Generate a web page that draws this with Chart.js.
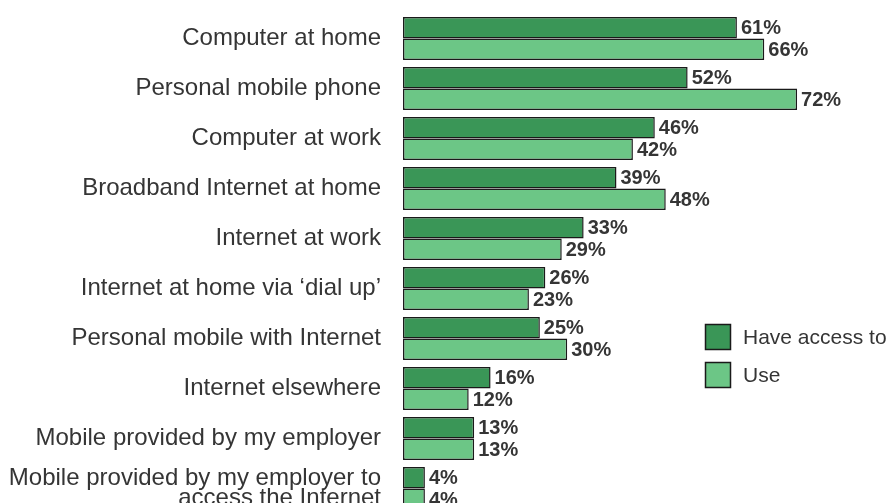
<!DOCTYPE html>
<html>
<head>
<meta charset="utf-8">
<script src="https://cdn.jsdelivr.net/npm/chart.js@4/dist/chart.umd.min.js"></script>
<style>
  html, body { margin: 0; padding: 0; background: #fff; overflow: hidden; width: 886px; height: 503px; }
  canvas { display: block; }
</style>
</head>
<body>
<canvas id="c" width="886" height="520"></canvas>
<script>
// Categories (top to bottom)
const categories = [
  'Computer at home',
  'Personal mobile phone',
  'Computer at work',
  'Broadband Internet at home',
  'Internet at work',
  'Internet at home via \u2018dial up\u2019',
  'Personal mobile with Internet',
  'Internet elsewhere',
  'Mobile provided by my employer',
  ['Mobile provided by my employer to', 'access the Internet']
];

// Percentages per series
const haveAccess = [61, 52, 46, 39, 33, 26, 25, 16, 13, 4];
const use        = [66, 72, 42, 48, 29, 23, 30, 12, 13, 4];

const seriesNames = ['Have access to', 'Use'];
const DARK = '#3a9657';
const LIGHT = '#6cc686';
const EDGE = '#1a1a1a';
const TEXT = '#353535';

// Percent labels at the end of each bar
const valueLabels = {
  id: 'valueLabels',
  afterDatasetsDraw(chart) {
    const ctx = chart.ctx;
    ctx.save();
    ctx.font = 'bold 20px "Liberation Sans", Arial, sans-serif';
    ctx.fillStyle = TEXT;
    ctx.textAlign = 'left';
    ctx.textBaseline = 'middle';
    chart.data.datasets.forEach((ds, di) => {
      chart.getDatasetMeta(di).data.forEach((bar, i) => {
        ctx.fillText(ds.data[i] + '%', bar.x + 4, bar.y + 1);
      });
    });
    ctx.restore();
  }
};

// Legend with square swatches to the right of the bars
const sideLegend = {
  id: 'sideLegend',
  afterDraw(chart) {
    const ctx = chart.ctx;
    ctx.save();
    ctx.font = '21px "Liberation Sans", Arial, sans-serif';
    ctx.textBaseline = 'middle';
    ctx.textAlign = 'left';
    chart.data.datasets.forEach((ds, i) => {
      const x = 705, y = 324 + i * 38;
      ctx.fillStyle = ds.backgroundColor;
      ctx.fillRect(x, y, 26, 26);
      ctx.strokeStyle = EDGE;
      ctx.lineWidth = 1.5;
      ctx.strokeRect(x + 0.5, y + 0.5, 25, 25);
      ctx.fillStyle = TEXT;
      ctx.fillText(ds.label, 743, y + 14);
    });
    ctx.restore();
  }
};

new Chart(document.getElementById('c'), {
  type: 'bar',
  data: {
    labels: categories,
    datasets: [
      { label: seriesNames[0], data: haveAccess, backgroundColor: DARK, borderColor: EDGE, borderWidth: 1.5, borderSkipped: false },
      { label: seriesNames[1], data: use, backgroundColor: LIGHT, borderColor: EDGE, borderWidth: 1.5, borderSkipped: false }
    ]
  },
  options: {
    indexAxis: 'y',
    responsive: false,
    animation: false,
    devicePixelRatio: 1,
    layout: { padding: { top: 13.5, bottom: 6.5, left: 0, right: 45.1 } },
    datasets: { bar: { categoryPercentage: 0.86, barPercentage: 1 } },
    plugins: {
      legend: { display: false },
      tooltip: { enabled: false },
      title: { display: false }
    },
    scales: {
      x: { display: false, min: 0, max: 80 },
      y: {
        grid: { display: false, drawTicks: false },
        border: { display: false },
        ticks: {
          color: TEXT,
          padding: 22,
          font: { family: '"Liberation Sans", Arial, sans-serif', size: 24, lineHeight: 0.86 }
        },
        afterFit(scale) {
          scale.width = 403;
          scale.paddingTop = 0;
          scale.paddingBottom = 0;
        }
      }
    }
  },
  plugins: [valueLabels, sideLegend]
});
</script>
</body>
</html>
